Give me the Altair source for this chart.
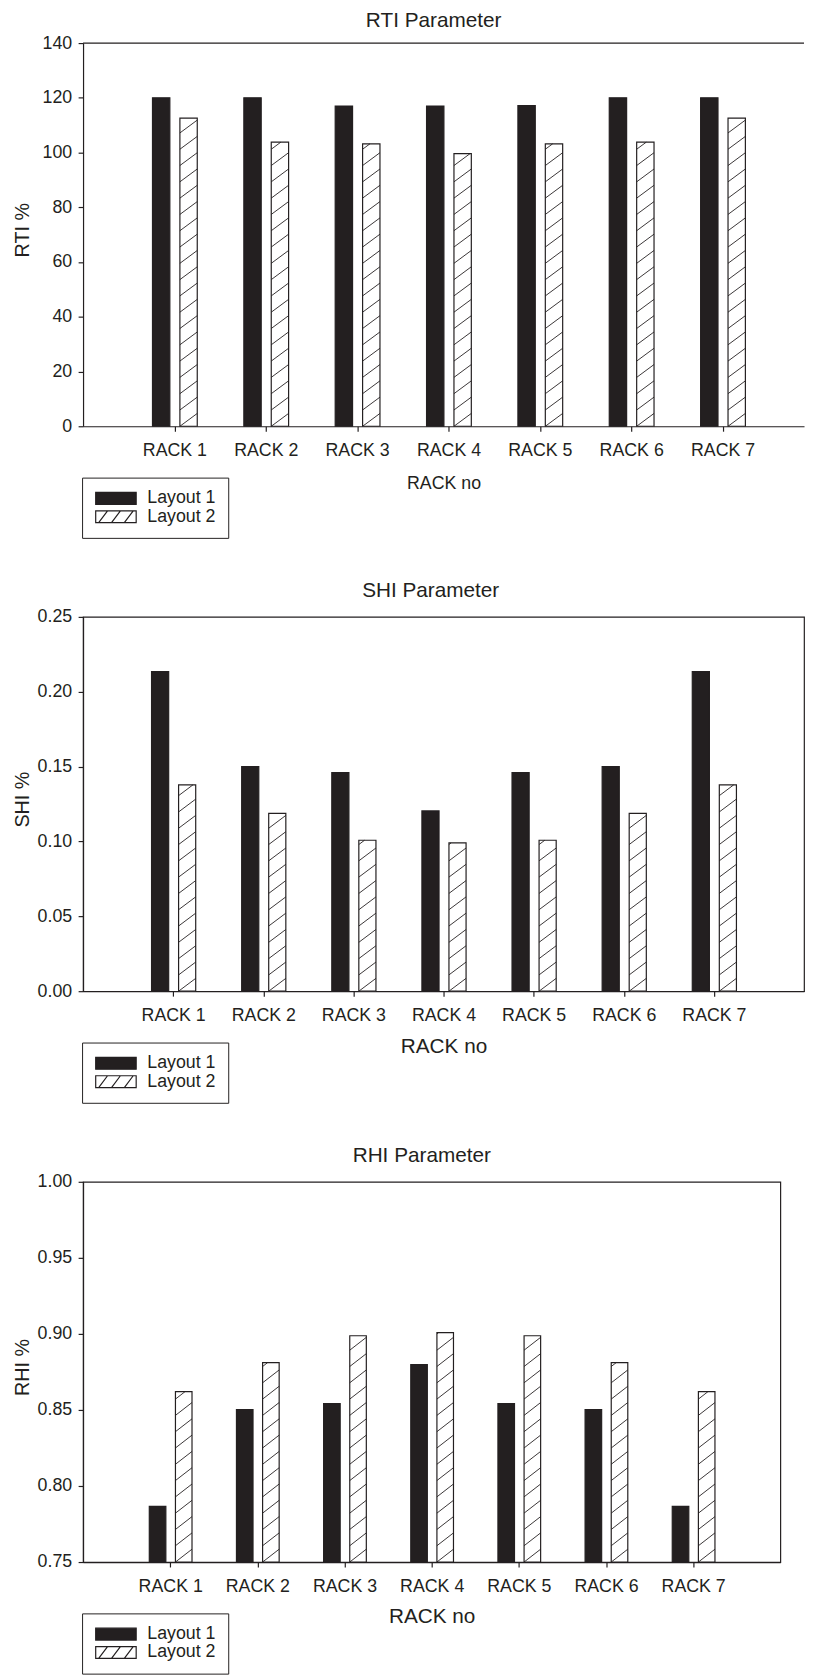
import altair as alt
import pandas as pd

FONT = "Liberation Sans"
INK = "#231f20"

racks = [1, 2, 3, 4, 5, 6, 7]
layouts = ["Layout 1", "Layout 2"]

rti_l1 = [120.0, 120.0, 117.0, 117.0, 117.2, 120.0, 120.0]
rti_l2 = [112.6, 103.8, 103.2, 99.6, 103.2, 103.8, 112.6]
shi_l1 = [0.2135, 0.150, 0.146, 0.1204, 0.146, 0.150, 0.2135]
shi_l2 = [0.1378, 0.1188, 0.1008, 0.099, 0.1008, 0.1188, 0.1378]
rhi_l1 = [0.7866, 0.8503, 0.8542, 0.8798, 0.8542, 0.8503, 0.7866]
rhi_l2 = [0.862, 0.8811, 0.8988, 0.9008, 0.8988, 0.8811, 0.862]

rti_ticks = [0, 20, 40, 60, 80, 100, 120, 140]
shi_ticks = [0.0, 0.05, 0.10, 0.15, 0.20, 0.25]
rhi_ticks = [0.75, 0.80, 0.85, 0.90, 0.95, 1.00]

PATH_SOLID = "M-1.2,-1H5.63V1H-1.2Z"
PATH_HATCH = "M-1.2,-1H5.63V1H-1.2Z M-0.7,1L0.8,-1 M1.47,1L2.97,-1 M3.63,1L5.13,-1"


def hatch_lines(values, ymin, ppu, left=0.06, right=0.25, rise_px=13.0, gap_px=16.5):
    rise = rise_px / ppu
    gap = gap_px / ppu
    rows = []
    for r, v in zip(racks, values):
        x0 = r + left
        x1 = r + right
        k = 0
        while True:
            y0 = ymin + k * gap
            if y0 >= v:
                break
            y1 = y0 + rise
            xe = x1
            if y1 > v:
                xe = x0 + (v - y0) / rise * (x1 - x0)
                y1 = v
            rows.append(dict(x0=x0, x1=xe, y0=y0, y1=y1))
            k += 1
    return pd.DataFrame(rows)


def panel(title, ytitle, v1, v2, yticks, yfmt, width, height, xmax,
          title_dx, title_offset, xtitle_size, xtitle_y, framed):
    ymin, ymax = yticks[0], yticks[-1]
    rows = []
    for i, r in enumerate(racks):
        rows.append(dict(rack=r, layout="Layout 1", value=v1[i]))
        rows.append(dict(rack=r, layout="Layout 2", value=v2[i]))
    df = pd.DataFrame(rows)

    xscale = alt.Scale(domain=[0, xmax], nice=False, zero=False)
    yscale = alt.Scale(domain=[ymin, ymax], nice=False, zero=False)
    fill_scale = alt.Scale(domain=layouts, range=[INK, "white"])
    shape_scale = alt.Scale(domain=layouts, range=[PATH_SOLID, PATH_HATCH])

    legend = alt.Legend(
        title=None, orient="none", legendX=-1, legendY=height + 52,
        strokeColor=INK, fillColor="white", padding=12,
        labelFont=FONT, labelFontSize=18, labelColor=INK, labelOffset=36,
        rowPadding=0.6, symbolSize=144, symbolStrokeColor=INK,
        symbolStrokeWidth=1.2,
    )

    xaxis = alt.Axis(
        values=racks, labelExpr="'RACK ' + datum.value", title="RACK no",
        grid=False, tickSize=5, tickColor=INK, tickWidth=1.2,
        domainColor=INK, domainWidth=1.2,
        labelFont=FONT, labelFontSize=18, labelColor=INK, labelPadding=11,
        labelFlush=False, labelOverlap=False,
        titleFont=FONT, titleFontSize=xtitle_size, titleColor=INK,
        titleFontWeight="normal", titleY=xtitle_y, titleBaseline="alphabetic",
    )
    yaxis = alt.Axis(
        values=yticks, format=yfmt, title=ytitle, grid=False,
        tickSize=5, tickColor=INK, tickWidth=1.2,
        domainColor=INK, domainWidth=1.2,
        labelFont=FONT, labelFontSize=18, labelColor=INK, labelPadding=6.5,
        titleFont=FONT, titleFontSize=20, titleColor=INK,
        titleFontWeight="normal", titleX=-55, titleY=height / 2 - 5,
        titleAngle=270, titleBaseline="alphabetic", titleAlign="center",
    )

    bars = alt.Chart(df).transform_calculate(
        xs="datum.rack + (datum.layout == 'Layout 1' ? -0.24 : 0.06)",
        xe="datum.rack + (datum.layout == 'Layout 1' ? -0.05 : 0.25)",
    ).mark_bar(stroke=INK, strokeWidth=1.2).encode(
        x=alt.X("xs:Q", scale=xscale, axis=xaxis),
        x2="xe:Q",
        y=alt.Y("value:Q", scale=yscale, axis=yaxis),
        y2=alt.datum(ymin),
        fill=alt.Fill("layout:N", scale=fill_scale, legend=legend),
    )

    ppu = height / (ymax - ymin)
    hdf = hatch_lines(v2, ymin, ppu)
    hatch = alt.Chart(hdf).mark_rule(stroke=INK, strokeWidth=0.9).encode(
        x=alt.X("x0:Q", scale=xscale, axis=xaxis),
        x2="x1:Q",
        y=alt.Y("y0:Q", scale=yscale, axis=yaxis),
        y2="y1:Q",
    )

    helper = alt.Chart(df).mark_point(
        filled=True, clip=True, stroke=INK, strokeWidth=1.2, size=144, opacity=1
    ).encode(
        x=alt.value(-300), y=alt.value(-300),
        fill=alt.Fill("layout:N", scale=fill_scale, legend=legend),
        shape=alt.Shape("layout:N", scale=shape_scale, legend=legend),
    )

    layers = [bars, hatch, helper]
    if not framed:
        top = alt.Chart(pd.DataFrame({"v": [ymax]})).mark_rule(
            stroke=INK, strokeWidth=1.2
        ).encode(y=alt.Y("v:Q", scale=yscale, axis=yaxis))
        layers.append(top)

    props = dict(
        width=width, height=height,
        title=alt.TitleParams(
            text=title, font=FONT, fontSize=21, fontWeight="normal", color=INK,
            offset=title_offset, dx=title_dx, anchor="middle", frame="group",
        ),
    )
    ch = alt.layer(*layers).properties(**props)
    if not framed:
        ch = ch.properties(view=alt.ViewBackground(stroke="transparent"))
    return ch


c1 = panel("RTI Parameter", "RTI %", rti_l1, rti_l2, rti_ticks, "d",
           730, 388, 730 / 92.5, -10, 3, 18, 63, False)
c2 = panel("SHI Parameter", "SHI %", shi_l1, shi_l2, shi_ticks, ".2f",
           730, 379, 8, -13, 7, 21, 62, True)
c3 = panel("RHI Parameter", "RHI %", rhi_l1, rhi_l2, rhi_ticks, ".2f",
           706, 385, 8, -10, 7, 21, 61, True)

chart = alt.vconcat(c1, c2, c3, spacing=40).resolve_scale(
    fill="independent", shape="independent"
).resolve_legend(
    fill="independent", shape="independent"
).properties(
    padding={"left": 4, "top": -9, "right": 0, "bottom": 0},
    background="white",
).configure(font=FONT).configure_view(stroke=INK, strokeWidth=1.2)

chart.save("out.html", embed_options={"renderer": "svg", "actions": False})
